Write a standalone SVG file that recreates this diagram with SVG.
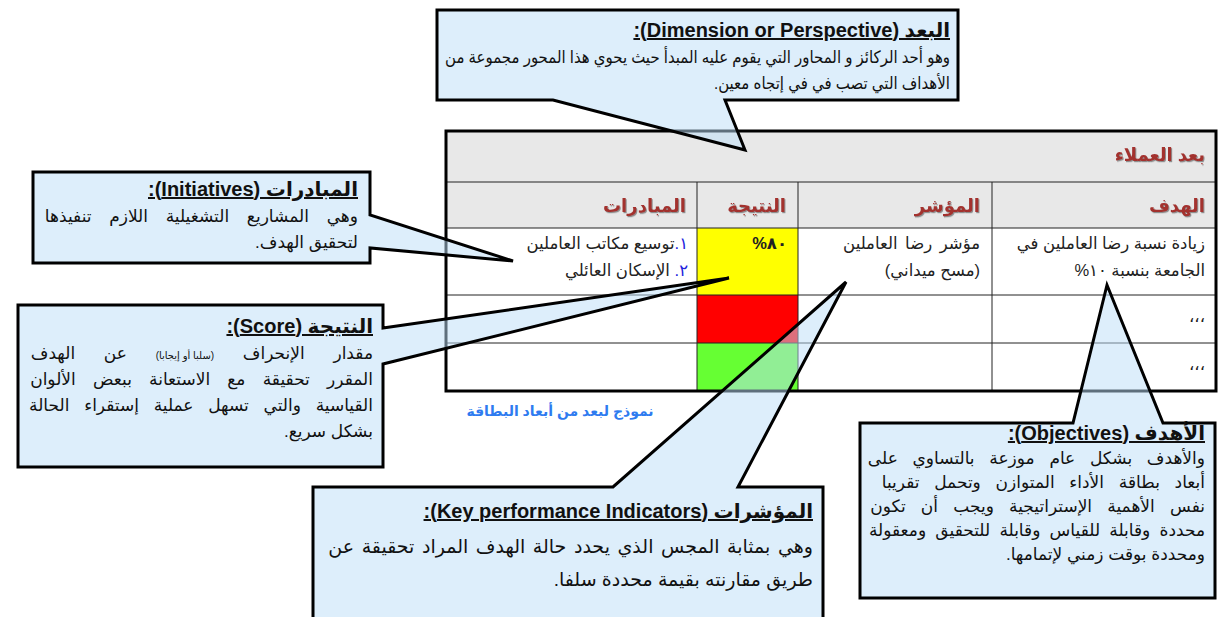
<svg xmlns="http://www.w3.org/2000/svg" width="1218" height="617" viewBox="0 0 1218 617">
<style>
text{font-family:"Liberation Sans","DejaVu Sans",sans-serif;fill:#111;}
.rtl{direction:rtl;text-anchor:start;}
.ttl{font-size:20px;font-weight:bold;text-decoration:underline;}
.body{font-size:17px;}
.kb{font-size:19px;}
.cell{font-size:16.5px;fill:#222;}
.hdr{font-size:18px;font-weight:bold;fill:#A3302E;filter:url(#sh);}
.callout{fill:#BBDDF7;fill-opacity:0.5;stroke:#000;stroke-width:3;stroke-linejoin:miter;}
.thin{stroke:#222;stroke-width:1;fill:none;}
</style>
<defs>
<filter id="sh" x="-10%" y="-30%" width="130%" height="160%">
<feDropShadow dx="1" dy="1.2" stdDeviation="0.6" flood-color="#777" flood-opacity="0.8"/>
</filter>
</defs>
<rect width="1218" height="617" fill="#fff"/>

<g id="table">
<rect x="446" y="131" width="770" height="97" fill="#E8E8E8"/>
<rect x="697" y="228" width="101" height="67" fill="#FFFF00"/>
<rect x="697" y="295" width="101" height="48" fill="#FF0000"/>
<rect x="697" y="343" width="101" height="48" fill="#66FF33"/>
<path class="thin" d="M446,182 H1216 M446,228 H1216 M446,295 H1216 M446,343 H1216 M697,182 V391 M798,182 V391 M992,182 V391"/>
<rect x="446" y="131" width="770" height="260" fill="none" stroke="#000" stroke-width="3"/>
<text class="rtl hdr" x="1205" y="161">بعد العملاء</text>
<text class="rtl hdr" x="1205" y="212">الهدف</text>
<text class="rtl hdr" x="980" y="212">المؤشر</text>
<text class="rtl hdr" x="786" y="212">النتيجة</text>
<text class="rtl hdr" x="686" y="212">المبادرات</text>
<text class="rtl cell" x="1205" y="249">زيادة نسبة رضا العاملين في</text>
<text class="rtl cell" x="1205" y="276">الجامعة بنسبة ١٠%</text>
<text class="rtl cell" x="980" y="249" word-spacing="3">مؤشر رضا العاملين</text>
<text class="rtl cell" x="980" y="276">(مسح ميداني)</text>
<text class="rtl cell" x="787" y="249" font-weight="bold" font-size="17">٨٠%</text>
<text class="rtl cell" x="688" y="249"><tspan fill="#2222DD">١.</tspan>توسيع مكاتب العاملين</text>
<text class="rtl cell" x="688" y="276"><tspan fill="#2222DD">٢.</tspan> الإسكان العائلي</text>
<text class="rtl cell" x="1205" y="322">،،،</text>
<text class="rtl cell" x="1205" y="370">،،،</text>
</g>
<g id="caption">
<text x="560" y="416" text-anchor="middle" style="direction:rtl;font-size:14px;font-weight:bold;fill:#2E7BF0">نموذج لبعد من أبعاد البطاقة</text>
</g>

<g id="connectors">
</g>

<g id="dimension">
<path class="callout" d="M437,10 H958 V100 H725 L745,150 L553,100 H437 Z"/>
<text class="rtl ttl" x="950" y="37">البعد (Dimension or Perspective):</text>
<text class="rtl body" x="950" y="63" textLength="505" lengthAdjust="spacingAndGlyphs">وهو أحد الركائز و المحاور التي يقوم عليه المبدأ حيث يحوي هذا المحور مجموعة من</text>
<text class="rtl body" x="950" y="89" textLength="236" lengthAdjust="spacingAndGlyphs">الأهداف التي تصب في في إتجاه معين.</text>
</g>

<g id="initiatives">
<path class="callout" d="M33,172 H370 V215 L513,261 L370,248 V263 H33 Z"/>
<text class="rtl ttl" x="358" y="196">المبادرات (Initiatives):</text>
<text class="rtl body" x="358" y="222" word-spacing="13">وهي المشاريع التشغيلية اللازم تنفيذها</text>
<text class="rtl body" x="358" y="248">لتحقيق الهدف.</text>
</g>

<g id="score">
<path class="callout" d="M18,305 H383 V328 L729,278 L383,364 V467 H18 Z"/>
<text class="rtl ttl" x="373" y="333">النتيجة (Score):</text>
<text class="rtl body" x="373" y="359" word-spacing="24">مقدار الإنحراف <tspan font-size="10" word-spacing="0">(سلبا أو إيجابا)</tspan> عن الهدف</text>
<text class="rtl body" x="373" y="385" word-spacing="12.5">المقرر تحقيقة مع الاستعانة ببعض الألوان</text>
<text class="rtl body" x="373" y="411" word-spacing="10">القياسية والتي تسهل عملية إستقراء الحالة</text>
<text class="rtl body" x="373" y="437">بشكل سريع.</text>
</g>

<g id="kpi">
<path class="callout" d="M313,487 H613 L846,282 L738,487 H823 V625 H313 Z"/>
<text class="rtl ttl" x="813" y="518" font-size="22">المؤشرات (Key performance Indicators):</text>
<text class="rtl body kb" x="813" y="553" word-spacing="2.3">وهي بمثابة المجس الذي يحدد حالة الهدف المراد تحقيقة عن</text>
<text class="rtl body kb" x="813" y="586">طريق مقارنته بقيمة محددة سلفا.</text>
</g>

<g id="objectives">
<path class="callout" d="M860,423 H1073 L1107,285 L1163,423 H1215 V598 H860 Z"/>
<text class="rtl ttl" x="1205" y="440">الأهدف (Objectives):</text>
<text class="rtl body" x="1205" y="464" word-spacing="10">والأهدف بشكل عام موزعة بالتساوي على</text>
<text class="rtl body" x="1205" y="488" word-spacing="10">أبعاد بطاقة الأداء المتوازن وتحمل تقريبا</text>
<text class="rtl body" x="1205" y="512" word-spacing="10.5">نفس الأهمية الإستراتيجية ويجب أن تكون</text>
<text class="rtl body" x="1205" y="536" word-spacing="4.5">محددة وقابلة للقياس وقابلة للتحقيق ومعقولة</text>
<text class="rtl body" x="1205" y="560">ومحددة بوقت زمني لإتمامها.</text>
</g>
</svg>
